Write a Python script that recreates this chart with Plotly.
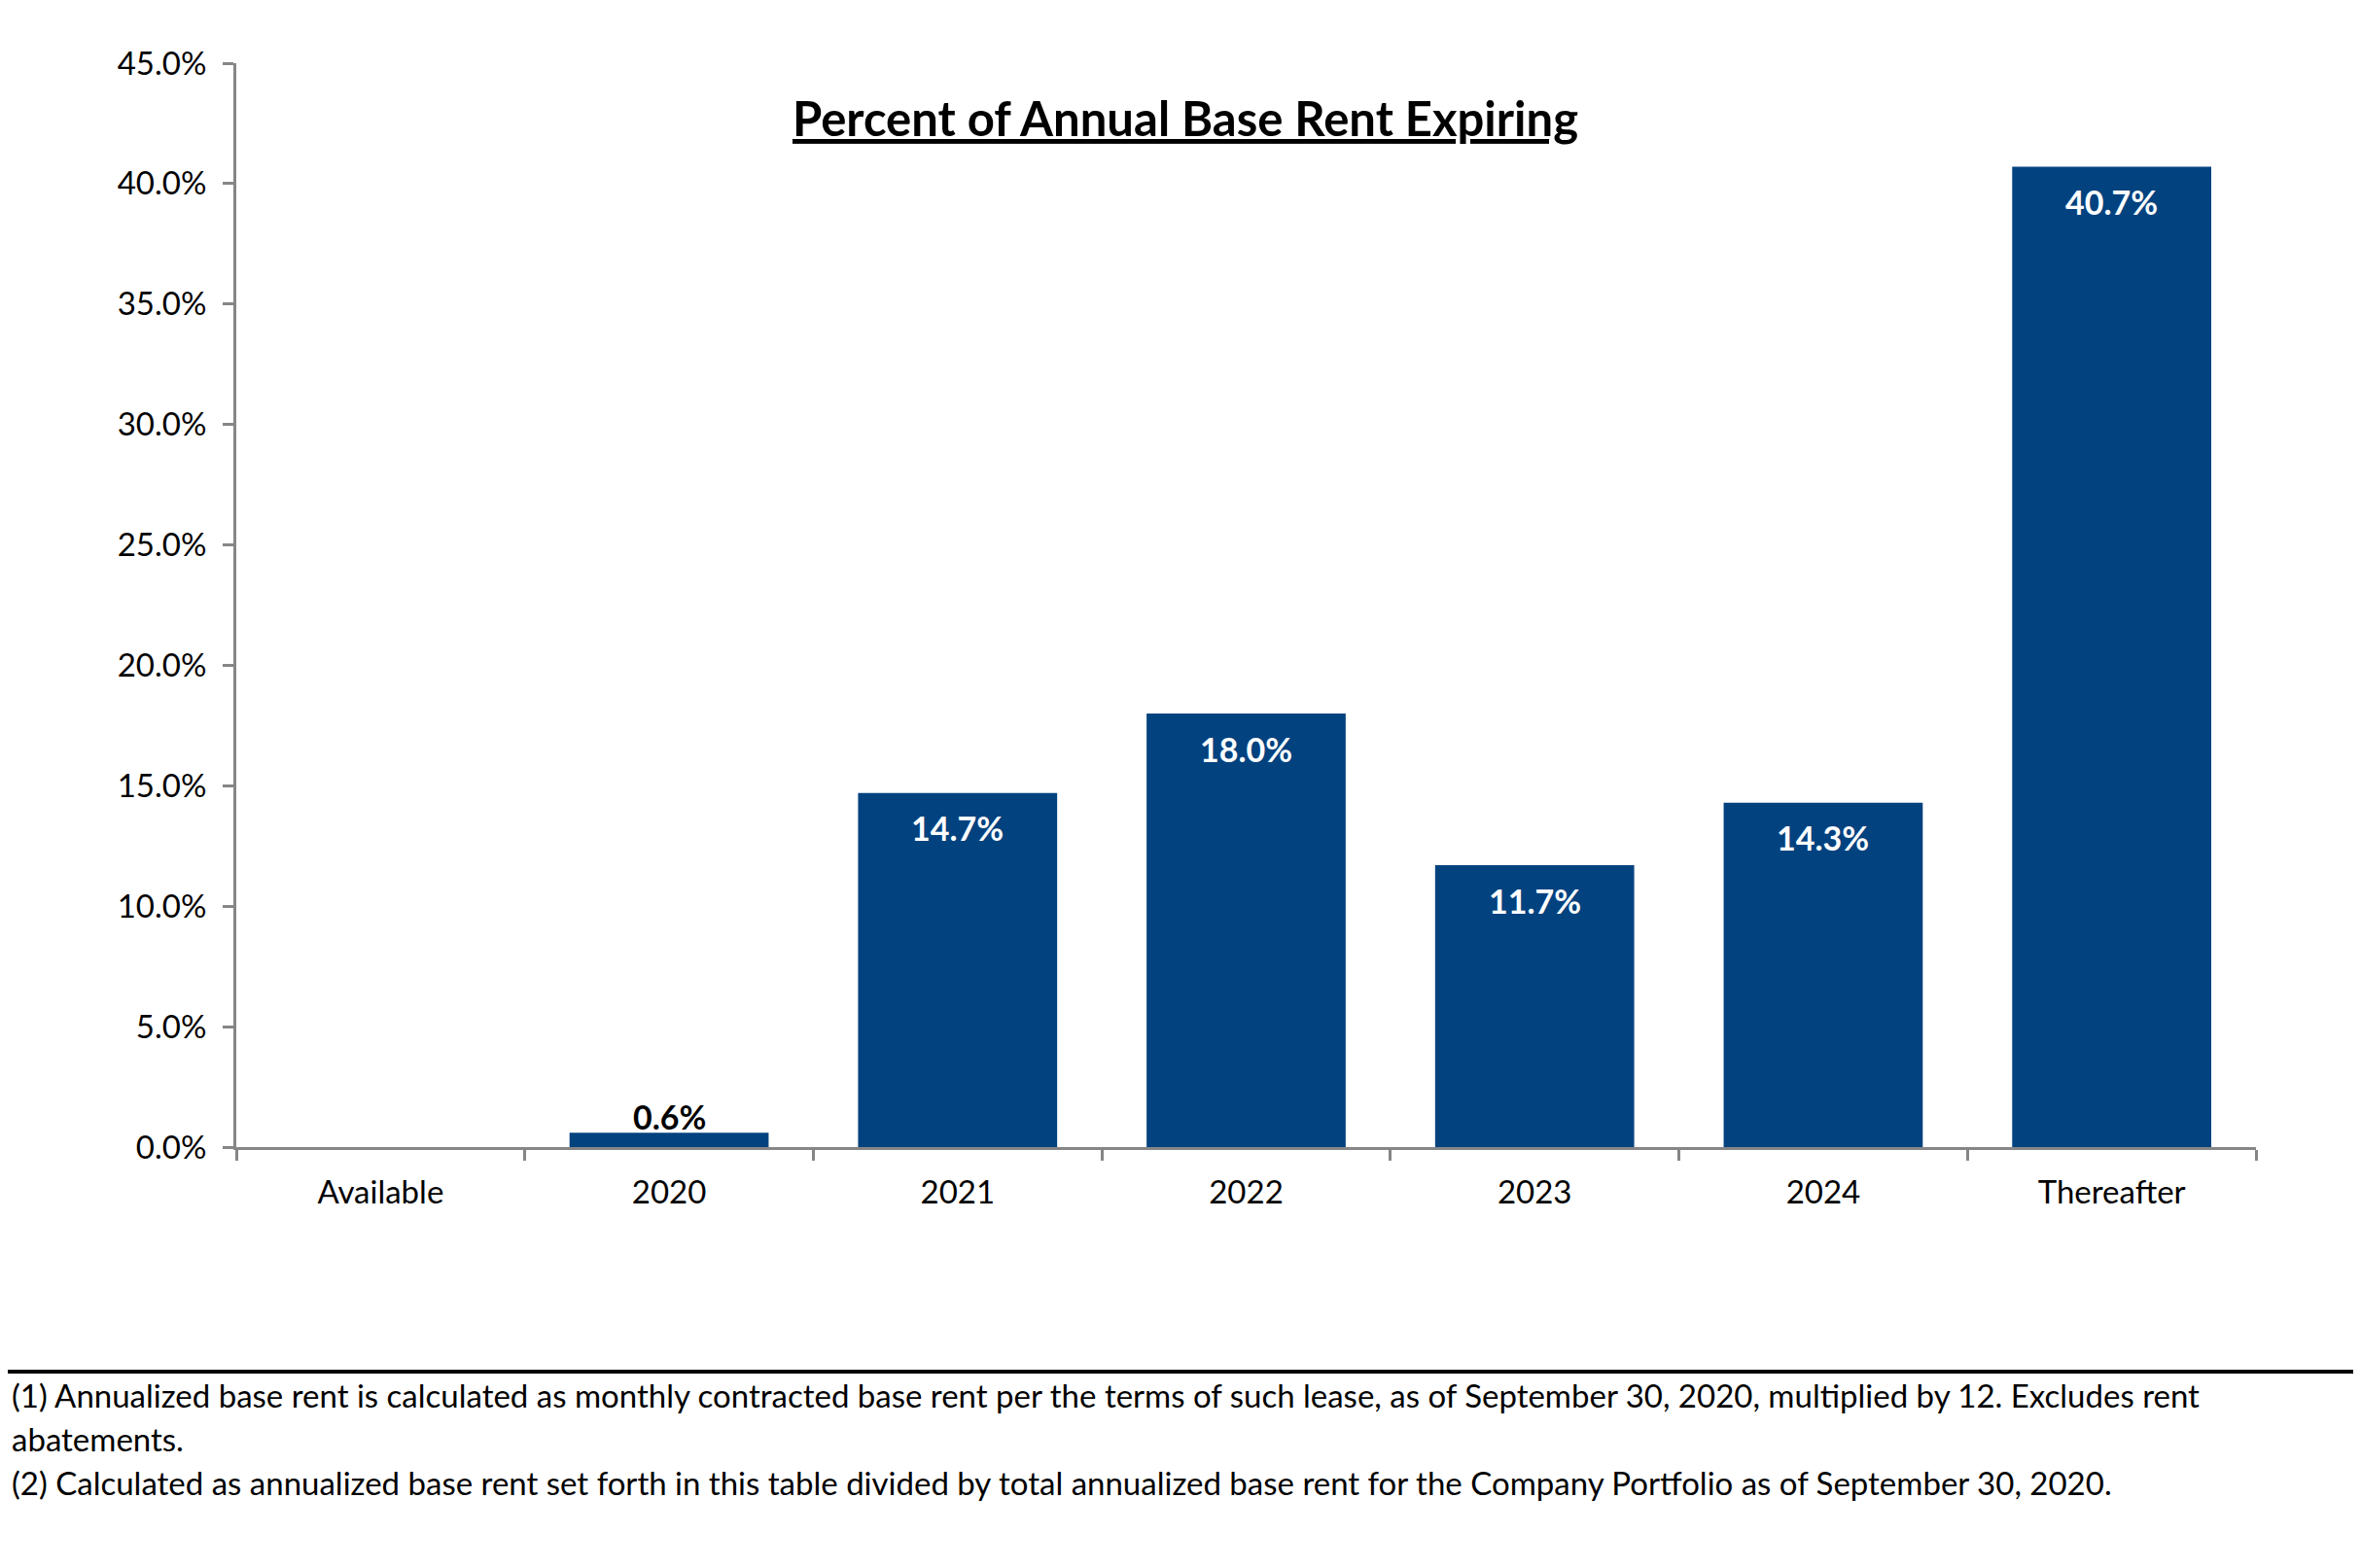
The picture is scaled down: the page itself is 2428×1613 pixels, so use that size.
import plotly.graph_objects as go

categories = ["Available", "2020", "2021", "2022", "2023", "2024", "Thereafter"]
values = [0.0, 0.6, 14.7, 18.0, 11.7, 14.3, 40.7]
labels = ["", "0.6%", "14.7%", "18.0%", "11.7%", "14.3%", "40.7%"]
inside = [True, False, True, True, True, True, True]

title_text = "Percent of Annual Base Rent Expiring"
footnotes = [
    "(1) Annualized base rent is calculated as monthly contracted base rent per the terms of such lease, as of September 30, 2020, multiplied by 12. Excludes rent",
    "abatements.",
    "(2) Calculated as annualized base rent set forth in this table divided by total annualized base rent for the Company Portfolio as of September 30, 2020.",
]

# page body has an 8px default margin; work in screen coords and shift
OFF = 8
W, H = 2428 - OFF, 1613 - OFF
plot_left, plot_right, plot_top, plot_bottom = 243 - OFF, 2320 - OFF, 65 - OFF, 1180 - OFF
L, R, T, B = plot_left, W - plot_right, plot_top, H - plot_bottom
pw, ph = plot_right - plot_left, plot_bottom - plot_top
FONT = "Lato"
BLUE = "#02427F"
GRAY = "#868686"

fig = go.Figure()
fig.add_trace(go.Bar(
    x=categories, y=values,
    marker=dict(color=BLUE, line=dict(width=0)),
    width=0.69, hoverinfo="x+y",
))


def px_x(sx):
    return (sx - OFF - plot_left) / pw


def px_y(sy):
    return (plot_bottom - (sy - OFF)) / ph


annotations = [dict(
    text=title_text, xref="paper", yref="paper", x=px_x(1219), y=px_y(121),
    xanchor="center", yanchor="middle", showarrow=False,
    font=dict(family=FONT, size=49, color="black", weight="bold", lineposition="under"),
)]

for i, (v, t, ins) in enumerate(zip(values, labels, inside)):
    if not t:
        continue
    annotations.append(dict(
        text=t, x=i, y=v, xref="x", yref="y", showarrow=False,
        xanchor="center", yanchor="middle",
        yshift=-36 if ins else 17,
        font=dict(family=FONT, size=34, color="white" if ins else "black", weight="bold"),
    ))

for t, sy in zip(footnotes, [1435, 1480, 1525]):
    annotations.append(dict(
        text=t, xref="paper", yref="paper", x=px_x(10), y=px_y(sy),
        xanchor="left", yanchor="middle", showarrow=False,
        font=dict(family=FONT, size=33, color="black"),
    ))

fig.update_layout(
    width=W, height=H,
    margin=dict(l=L, r=R, t=T, b=B),
    paper_bgcolor="white", plot_bgcolor="white",
    showlegend=False,
    bargap=0.31,
    font=dict(family=FONT, size=33, color="black"),
    annotations=annotations,
    shapes=[dict(type="line", xref="paper", yref="paper",
                 x0=px_x(OFF), x1=px_x(2428 + OFF), y0=px_y(1411), y1=px_y(1411),
                 line=dict(color="black", width=4))],
    xaxis=dict(
        type="category", range=[-0.5, 6.5],
        showline=True, linecolor=GRAY, linewidth=3,
        ticks="outside", tickson="boundaries", ticklen=11, tickwidth=3, tickcolor=GRAY,
        showgrid=False, zeroline=False,
        tickfont=dict(family=FONT, size=33, color="black"),
        ticklabelstandoff=15,
    ),
    yaxis=dict(
        range=[0, 45], dtick=5, tick0=0,
        tickformat=".1f", ticksuffix="%",
        showline=True, linecolor=GRAY, linewidth=3,
        ticks="outside", ticklen=11, tickwidth=3, tickcolor=GRAY,
        showgrid=False, zeroline=False,
        tickfont=dict(family=FONT, size=33, color="black"),
        ticklabelstandoff=10,
    ),
)

fig.write_html("out.html")
